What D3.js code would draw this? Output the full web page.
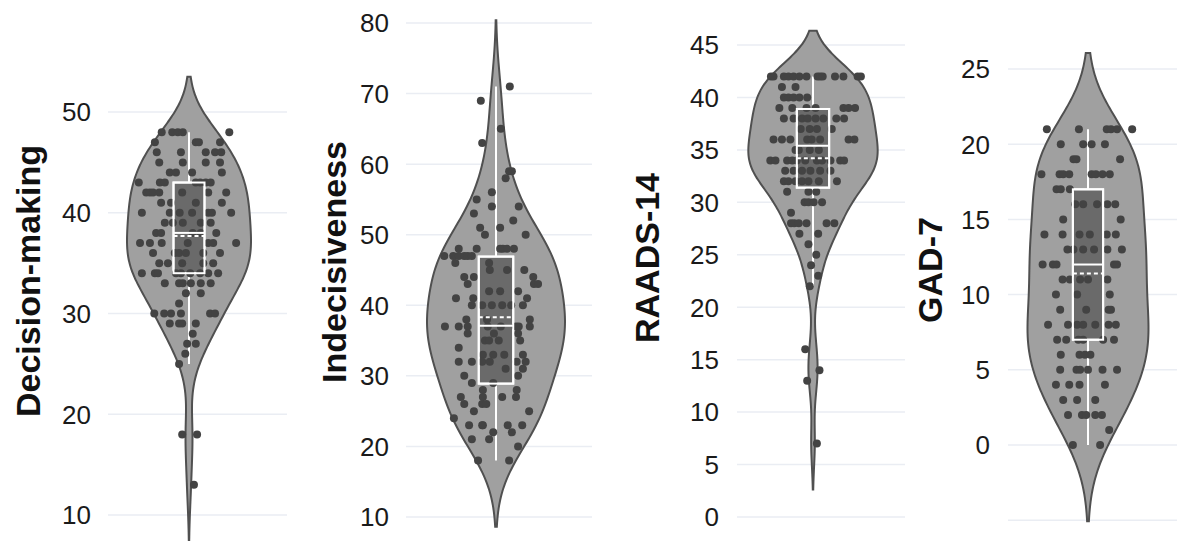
<!DOCTYPE html>
<meta charset="utf-8">
<style>
	body { margin: 0; background: #fff; }
	.grid { stroke: #eaedf3; stroke-width: 1.5px; }
	.tick-label { font-family: "Liberation Sans", Arial, sans-serif; font-size: 26px; fill: #1a1a1a; }
	.title { font-family: "Liberation Sans", Arial, sans-serif; font-size: 34px; font-weight: bold; fill: #111; }
	.violin { fill: #a0a0a0; stroke: #505050; stroke-width: 2px; }
	.box { fill: #6a6a6a; stroke: #fff; stroke-width: 2px; }
	.whisker, .median { stroke: #fff; stroke-width: 2px; }
	.mean { stroke: #fff; stroke-width: 2px; stroke-dasharray: 4 3; }
	.pt { fill: #434343; }
</style>
<body>
<svg id="chart" width="1177" height="541"></svg>
<script src="https://d3js.org/d3.v7.min.js"></script>
<script>
// ---- data ----
var titles = ["Decision-making", "Indecisiveness", "RAADS-14", "GAD-7"];

var tickValues = [
	[10, 20, 30, 40, 50],
	[10, 20, 30, 40, 50, 60, 70, 80],
	[0, 5, 10, 15, 20, 25, 30, 35, 40, 45],
	[-5, 0, 5, 10, 15, 20, 25]
];
var hiddenLabels = [[], [], [], [-5]];

// box stats: [lower whisker, q1, median, q3, upper whisker, mean]
var boxStats = [
	[25, 34, 38, 43, 48, 37.7],
	[18, 28.9, 37.1, 46.9, 71, 38.3],
	[22, 31.4, 35.4, 38.9, 42, 34.2],
	[0, 7, 12, 17, 21, 11.4]
];

// points: [score, jitter in % of violin half-width]
var decisionMaking = [
	[48,-44],[48,-27],[48,-18],[48,-10],[48,65],
	[47,-55],[47,11],[47,16],[47,50],
	[46,-52],[46,-13],[46,27],[46,42],[46,52],
	[45,-48],[45,-10],[45,27],[45,50],
	[44,-31],[44,-21],[44,5],[44,53],
	[43,-81],[43,-47],[43,-39],[43,11],[43,18],[43,27],[43,35],
	[42,-69],[42,-63],[42,-58],[42,-48],[42,-11],[42,31],[42,60],
	[41,-45],[41,-29],[41,11],[41,53],
	[40,-76],[40,-31],[40,-15],[40,5],[40,31],[40,37],[40,68],
	[39,-39],[39,-26],[39,-10],[39,19],[39,35],
	[38,-53],[38,-45],[38,6],[38,19],[38,44],
	[37,-79],[37,-63],[37,-44],[37,-2],[37,31],[37,39],[37,76],
	[36,-58],[36,-23],[36,-16],[36,-5],[36,23],[36,50],
	[35,-48],[35,-34],[35,-11],[35,23],[35,39],
	[34,-76],[34,-55],[34,-50],[34,-21],[34,-13],[34,2],[34,18],[34,31],[34,47],
	[33,-39],[33,-16],[33,-10],[33,3],[33,19],[33,35],
	[32,-5],[32,19],
	[31,-16],
	[30,-56],[30,-40],[30,-29],[30,-13],[30,34],[30,42],
	[29,-31],[29,-16],[29,-11],[29,11],
	[28,6],
	[27,-3],[27,11],
	[26,-6],
	[25,-16],
	[18,-11],[18,13],
	[13,8]
];

var indecisiveness = [
	[71,20],[69,-22],[65,7],[63,-20],
	[59,19],[59,23],[58,14],[56,-6],[55,-28],
	[54,-6],[54,33],[53,-32],[52,25],[51,-23],[51,6],[50,-16],[50,43],
	[48,-54],[48,-28],[48,6],[48,10],[48,16],[48,26],
	[47,-75],[47,-62],[47,-54],[47,-46],[47,-41],[47,-35],
	[46,-59],[46,-10],
	[45,-9],[45,16],[45,41],
	[44,-46],[44,-32],[44,54],
	[43,-41],[43,55],[43,61],
	[42,-10],[42,6],[42,32],
	[41,-58],[41,-33],[41,45],
	[40,-35],[40,-20],[40,-6],[40,9],[40,22],[40,39],
	[38,-43],[38,-13],[38,49],
	[37,-74],[37,-54],[37,-41],[37,-12],[37,7],[37,29],[37,33],[37,49],
	[36,-41],[36,-3],[36,32],
	[35,-16],[35,-10],[35,4],[35,35],
	[34,-54],
	[33,-19],[33,-4],[33,12],[33,39],
	[32,-54],[32,-35],[32,-20],[32,-9],[32,30],[32,43],
	[31,14],[31,39],
	[30,-46],[30,32],
	[29,-35],[29,-4],
	[28,-19],[28,30],
	[27,-51],[27,-19],[27,9],[27,29],
	[26,-46],[26,-20],[26,-14],
	[25,-32],[25,48],
	[24,-61],
	[23,-39],[23,-20],[23,-19],[23,17],[23,38],
	[22,-4],[22,23],
	[21,-35],[21,-10],
	[20,32],
	[18,-26],[18,19]
];

var raads14 = [
	[42,-65],[42,-61],[42,-45],[42,-38],[42,-30],[42,-21],[42,-10],[42,7],[42,11],[42,15],[42,34],[42,47],[42,69],[42,74],
	[41,-48],[41,-27],
	[40,-45],[40,-38],[40,-30],[40,-21],[40,-9],
	[39,-52],[39,-32],[39,-10],[39,4],[39,47],[39,55],[39,65],
	[38,-45],[38,-30],[38,-17],[38,-8],[38,4],[38,16],[38,36],[38,48],
	[37,-19],[37,-5],[37,6],[37,29],
	[36,-61],[36,-48],[36,-35],[36,-9],[36,-2],[36,11],[36,55],[36,64],
	[35,-27],[35,-22],[35,-5],[35,9],
	[34,-66],[34,-58],[34,-40],[34,-32],[34,-25],[34,-12],[34,6],[34,14],[34,27],[34,42],[34,48],
	[33,-43],[33,-30],[33,-17],[33,-4],[33,11],[33,27],
	[32,-45],[32,-38],[32,-27],[32,-17],[32,-7],[32,9],[32,37],
	[31,-40],[31,-7],[31,5],
	[30,-13],[30,-7],[30,1],[30,14],
	[29,-34],
	[28,-34],[28,-29],[28,-22],[28,-10],[28,21],[28,33],
	[27,-21],[27,8],
	[26,-7],[25,5],[24,-3],[23,8],[22,-5],
	[16,-12],[14,10],[13,-9],[7,6]
];

var gad7 = [
	[21,-68],[21,-15],[21,31],[21,38],[21,48],[21,73],
	[20,-45],[20,-8],[20,6],[20,28],
	[19,-24],[19,-19],[19,53],
	[18,-77],[18,-47],[18,-41],[18,-31],[18,6],[18,13],[18,24],[18,36],
	[17,-52],[17,-45],[17,-30],
	[16,-21],[16,-8],[16,15],[16,32],[16,45],
	[15,-41],[15,54],
	[14,-72],[14,-42],[14,-14],[14,3],[14,31],[14,46],
	[13,-34],[13,-24],[13,-8],[13,10],[13,32],[13,56],
	[12,-75],[12,-58],[12,-52],[12,43],[12,48],
	[11,-42],[11,-30],[11,-13],[11,0],[11,32],
	[10,-53],[10,-18],[10,36],
	[9,-46],[9,-3],[9,34],[9,38],
	[8,-66],[8,-33],[8,-18],[8,-8],[8,12],[8,34],[8,46],
	[7,-51],[7,-36],[7,-16],[7,-8],[7,25],[7,43],
	[6,-45],[6,-14],[6,-5],[6,4],
	[5,-46],[5,-19],[5,-13],[5,0],[5,24],[5,48],
	[4,-53],[4,-31],[4,-14],[4,28],
	[3,-41],[3,-18],[3,12],
	[2,-33],[2,-10],[2,-3],[2,12],[2,23],
	[1,35],
	[0,-25],[0,20]
];

var series = [decisionMaking, indecisiveness, raads14, gad7];

// ---- layout (pixels) ----
var layout = [
	{cx: 189, hw: 62, yDomain: [10, 50], yRange: [515, 112], grid: [108, 287], labelX: 91, titleX: 40, titleY: 281},
	{cx: 496, hw: 69, yDomain: [10, 80], yRange: [517, 23], grid: [406, 592], labelX: 389, titleX: 346, titleY: 262},
	{cx: 813, hw: 64.7, yDomain: [0, 45], yRange: [517, 45], grid: [737, 905], labelX: 719, titleX: 659, titleY: 258},
	{cx: 1088, hw: 60.5, yDomain: [0, 25], yRange: [445, 69], grid: [1008, 1177], labelX: 990, titleX: 942, titleY: 270}
];

var svg = d3.select("#chart");

function kde(values, bw, lo, hi, steps) {
	var out = [];
	for (var i = 0; i <= steps; i++) {
		var t = lo + (hi - lo) * i / steps;
		var s = 0;
		values.forEach(function (v) {
			var u = (t - v) / bw;
			s += Math.exp(-0.5 * u * u);
		});
		out.push({v: t, d: s});
	}
	return out;
}

series.forEach(function (pts, i) {
	var L = layout[i];
	var y = d3.scaleLinear().domain(L.yDomain).range(L.yRange);
	var x = d3.scaleLinear().domain([-100, 100]).range([L.cx - L.hw, L.cx + L.hw]);
	var g = svg.append("g");

	// gridlines + tick labels
	g.selectAll("line.grid").data(tickValues[i]).enter().append("line")
			.attr("class", "grid")
			.attr("x1", L.grid[0]).attr("x2", L.grid[1])
			.attr("y1", function (d) { return y(d); })
			.attr("y2", function (d) { return y(d); });
	g.selectAll("text.tick-label").data(tickValues[i].filter(function (d) { return hiddenLabels[i].indexOf(d) < 0; }))
			.enter().append("text")
			.attr("class", "tick-label")
			.attr("x", L.labelX)
			.attr("y", function (d) { return y(d); })
			.attr("dy", "0.36em")
			.attr("text-anchor", "end")
			.text(function (d) { return d; });

	// violin: gaussian kde, silverman bandwidth, soft span
	var vals = pts.map(function (p) { return p[0]; }).sort(d3.ascending);
	var sd = d3.deviation(vals);
	var iqr = d3.quantile(vals, 0.75) - d3.quantile(vals, 0.25);
	var bw = 1.059 * Math.min(sd, iqr / 1.349) * Math.pow(vals.length, -0.2);
	var dens = kde(vals, bw, vals[0] - 2 * bw, vals[vals.length - 1] + 2 * bw, 120);
	var dmax = d3.max(dens, function (d) { return d.d; });
	var w = d3.scaleLinear().domain([0, dmax]).range([0, 100]);

	var area = d3.area()
			.y(function (d) { return y(d.v); })
			.x0(function (d) { return x(-w(d.d)); })
			.x1(function (d) { return x(w(d.d)); })
			.curve(d3.curveBasis);
	g.append("path").datum(dens).attr("class", "violin").attr("d", area);

	// box
	var b = boxStats[i];
	g.append("line").attr("class", "whisker")
			.attr("x1", x(0)).attr("x2", x(0)).attr("y1", y(b[0])).attr("y2", y(b[4]));
	g.append("rect").attr("class", "box")
			.attr("x", x(-25)).attr("width", x(25) - x(-25))
			.attr("y", y(b[3])).attr("height", y(b[1]) - y(b[3]));

	// points
	g.selectAll("circle").data(pts).enter().append("circle")
			.attr("class", "pt")
			.attr("cx", function (d) { return x(d[1]); })
			.attr("cy", function (d) { return y(d[0]); })
			.attr("r", 4);

	// box outline, median, mean on top
	g.append("rect")
			.attr("x", x(-25)).attr("width", x(25) - x(-25))
			.attr("y", y(b[3])).attr("height", y(b[1]) - y(b[3]))
			.attr("fill", "none").attr("stroke", "#fff").attr("stroke-width", 2);
	g.append("line").attr("class", "median")
			.attr("x1", x(-25)).attr("x2", x(25)).attr("y1", y(b[2])).attr("y2", y(b[2]));
	g.append("line").attr("class", "mean")
			.attr("x1", x(-25)).attr("x2", x(25)).attr("y1", y(b[5])).attr("y2", y(b[5]));

	// axis title
	svg.append("text").attr("class", "title")
			.attr("transform", "translate(" + L.titleX + "," + L.titleY + ") rotate(-90)")
			.attr("text-anchor", "middle")
			.text(titles[i]);
});
</script>
</body>
